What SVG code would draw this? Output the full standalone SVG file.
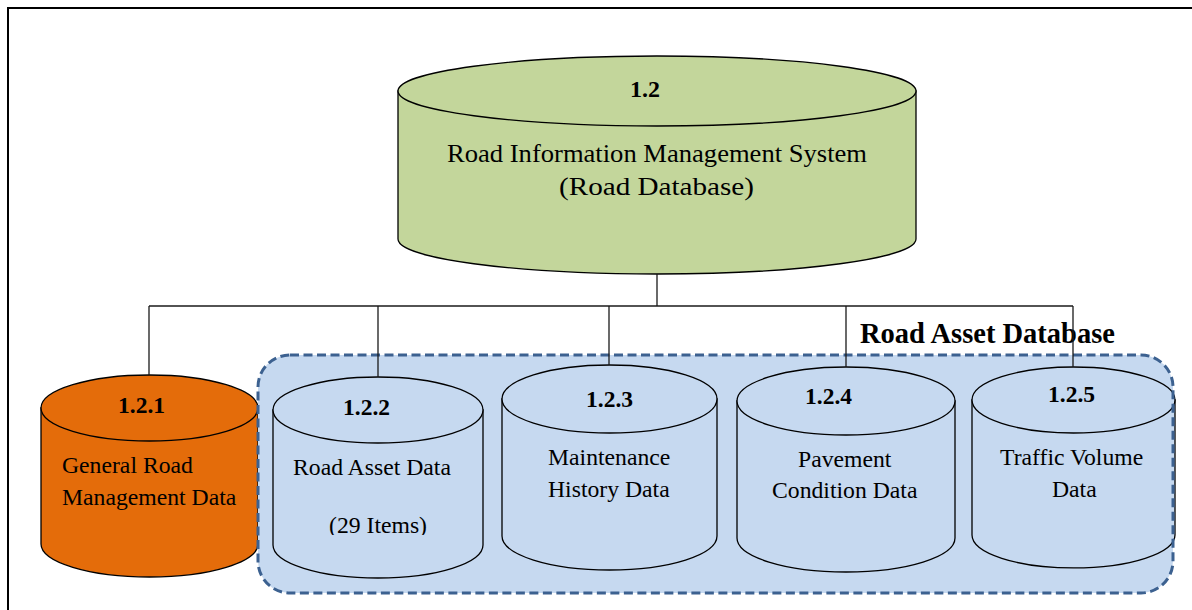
<svg xmlns="http://www.w3.org/2000/svg" width="1192" height="610" viewBox="0 0 1192 610">
  <style>
    .cyl { stroke: #000; stroke-width: 1.3; }
    .green { fill: #c3d69b; }
    .orange { fill: #e46c0a; }
    .blue { fill: #c6d9f0; }
    .num { font-family: "Liberation Serif", "Times New Roman", serif; font-weight: bold; font-size: 23.5px; fill: #000; }
    .lbl { font-family: "Liberation Serif", "Times New Roman", serif; font-size: 23.7px; fill: #000; }
    .big { font-family: "Liberation Serif", "Times New Roman", serif; font-size: 26px; fill: #000; }
    .title { font-family: "Liberation Serif", "Times New Roman", serif; font-weight: bold; font-size: 28.5px; fill: #000; }
    .link { fill: none; stroke: #1a1a1a; stroke-width: 1.3; }
    .group-border { fill: none; stroke: #3c6190; stroke-width: 3; stroke-dasharray: 9 4.5; }
  </style>
  <defs>
    <clipPath id="itemsClip">
      <rect x="300" y="500" width="160" height="35"/>
    </clipPath>
  </defs>

  <rect width="1192" height="610" fill="#fff"/>
  <!-- outer frame (continues past the right and bottom edges) -->
  <rect x="8" y="8" width="1200" height="620" fill="none" stroke="#000" stroke-width="2"/>

  <!-- 1.2 Road Information Management System -->
  <g id="node-1-2">
    <path class="cyl green" d="M398,91 V239 A259,35 0 0 0 916,239 V91 Z"/>
    <ellipse class="cyl green" cx="657" cy="91" rx="259" ry="35"/>
    <text class="num" x="630" y="97" style="font-size:24px">1.2</text>
    <text class="big" x="447" y="162" textLength="420" lengthAdjust="spacingAndGlyphs">Road Information Management System</text>
    <text class="big" x="559" y="195" textLength="195" lengthAdjust="spacingAndGlyphs">(Road Database)</text>
  </g>

  <!-- 1.2.1 General Road Management Data -->
  <g id="node-1-2-1">
    <path class="cyl orange" d="M41,408 V544 A108.5,33 0 0 0 258,544 V408 Z"/>
    <ellipse class="cyl orange" cx="149.5" cy="408" rx="108.5" ry="33"/>
    <text class="num" x="118" y="413">1.2.1</text>
    <text class="lbl" x="62" y="473">General Road</text>
    <text class="lbl" x="62" y="505">Management Data</text>
  </g>

  <!-- Road Asset Database grouping -->
  <g id="road-asset-database">
    <rect x="258" y="355" width="915" height="238" rx="32" ry="32" fill="#c6d9f0"/>
  </g>

  <g id="node-1-2-2">
    <path class="cyl blue" d="M273,410 V545 A105,33 0 0 0 483,545 V410 Z"/>
    <ellipse class="cyl blue" cx="378" cy="410" rx="105" ry="33"/>
    <text class="num" x="343" y="415">1.2.2</text>
    <text class="lbl" x="293" y="475">Road Asset Data</text>
    <text class="lbl" x="329" y="533" clip-path="url(#itemsClip)">(29 Items)</text>
  </g>

  <g id="node-1-2-3">
    <path class="cyl blue" d="M502,399 V536 A107.5,34 0 0 0 717,536 V399 Z"/>
    <ellipse class="cyl blue" cx="609.5" cy="399" rx="107.5" ry="34"/>
    <text class="num" x="586" y="407">1.2.3</text>
    <text class="lbl" x="548" y="465">Maintenance</text>
    <text class="lbl" x="548" y="497">History Data</text>
  </g>

  <g id="node-1-2-4">
    <path class="cyl blue" d="M737,401 V538 A109,34 0 0 0 955,538 V401 Z"/>
    <ellipse class="cyl blue" cx="846" cy="401" rx="109" ry="34"/>
    <text class="num" x="805" y="404">1.2.4</text>
    <text class="lbl" x="798" y="467">Pavement</text>
    <text class="lbl" x="772" y="498">Condition Data</text>
  </g>

  <g id="node-1-2-5">
    <path class="cyl blue" d="M972,400 V535 A101.5,33 0 0 0 1175,535 V400 Z"/>
    <ellipse class="cyl blue" cx="1073.5" cy="400" rx="101.5" ry="33"/>
    <text class="num" x="1048" y="402">1.2.5</text>
    <text class="lbl" x="1000" y="465">Traffic Volume</text>
    <text class="lbl" x="1052" y="497">Data</text>
  </g>

  <!-- dashed border of the grouping, drawn over the cylinders -->
  <rect class="group-border" x="258" y="355" width="915" height="238" rx="32" ry="32"/>
  <text class="title" x="860" y="343">Road Asset Database</text>

  <!-- tree connectors -->
  <g id="connectors">
    <path class="link" d="M657,274 V306"/>
    <path class="link" d="M149,306 H1073"/>
    <path class="link" d="M149,306 V375"/>
    <path class="link" d="M378,306 V377"/>
    <path class="link" d="M609,306 V365"/>
    <path class="link" d="M846,306 V367"/>
    <path class="link" d="M1073,306 V367"/>
  </g>
</svg>
